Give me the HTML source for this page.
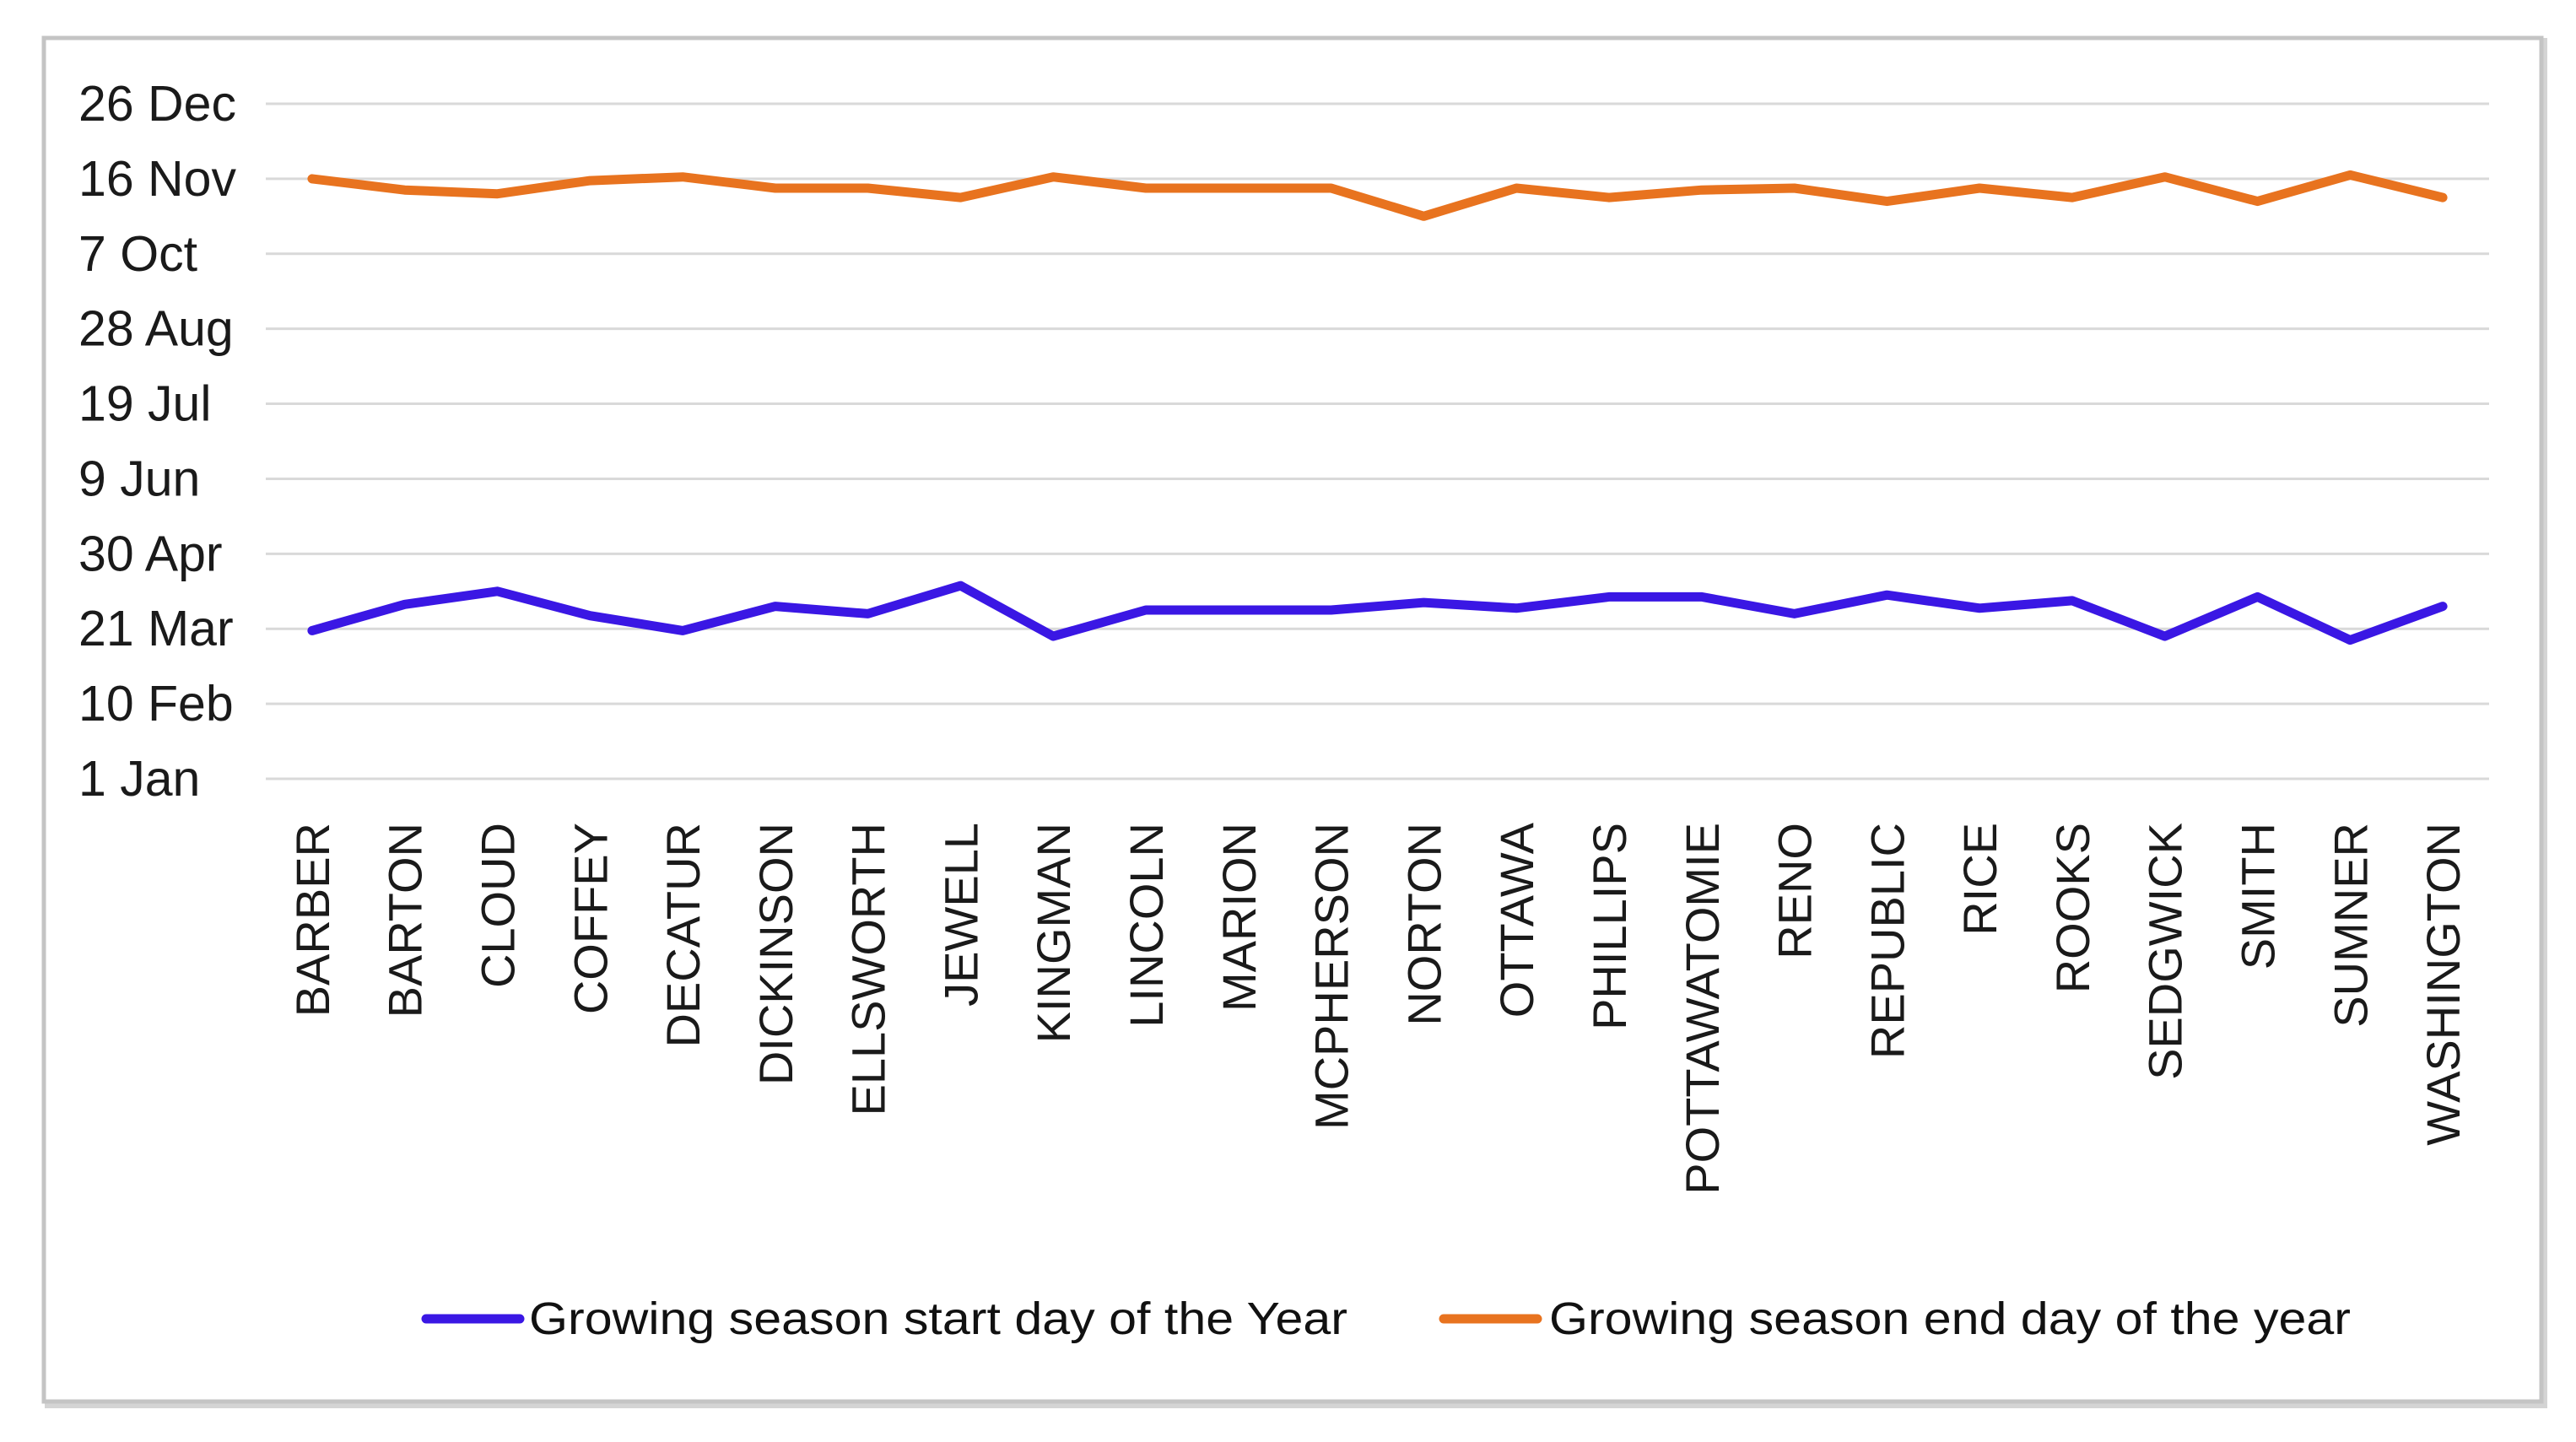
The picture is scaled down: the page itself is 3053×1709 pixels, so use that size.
<!DOCTYPE html>
<html><head><meta charset="utf-8"><style>
html,body{margin:0;padding:0;background:#fff;}
svg{display:block;font-family:"Liberation Sans",sans-serif;}
</style></head><body>
<svg id="chart" width="3053" height="1709" viewBox="0 0 3053 1709">
<rect x="56" y="48" width="2960" height="1618" fill="none" stroke="#d4d4d4" stroke-width="6"/>
<rect x="52" y="45" width="2960" height="1616" fill="#fff" stroke="#c4c4c4" stroke-width="5"/>
<g id="grid"></g><g id="yticks"></g><g id="xticks"></g><g id="series"></g>
<g>
<g>
<line x1="505" y1="1563" x2="616" y2="1563" stroke="#3a17e4" stroke-width="11" stroke-linecap="round"/>
<text x="627" y="1581" font-size="54" fill="#111" textLength="970" lengthAdjust="spacingAndGlyphs">Growing season start day of the Year</text>
</g>
<g>
<line x1="1711" y1="1563" x2="1822" y2="1563" stroke="#e8731f" stroke-width="11" stroke-linecap="round"/>
<text x="1836" y="1581" font-size="54" fill="#111" textLength="950" lengthAdjust="spacingAndGlyphs">Growing season end day of the year</text>
</g>
</g>
</svg>
<script>
const categories=["BARBER","BARTON","CLOUD","COFFEY","DECATUR","DICKINSON","ELLSWORTH","JEWELL","KINGMAN","LINCOLN","MARION","MCPHERSON","NORTON","OTTAWA","PHILLIPS","POTTAWATOMIE","RENO","REPUBLIC","RICE","ROOKS","SEDGWICK","SMITH","SUMNER","WASHINGTON"];
const startDays=[79,93,100,87,79,92,88,103,76,90,90,90,94,91,97,97,88,98,91,95,76,97,74,92];
const endDays=[320,314,312,319,321,315,315,310,321,315,315,315,300,315,310,314,315,308,315,310,321,308,322,310];
const tickValues=[0,40,80,120,160,200,240,280,320,360];
const tickLabels=["1 Jan","10 Feb","21 Mar","30 Apr","9 Jun","19 Jul","28 Aug","7 Oct","16 Nov","26 Dec"];
const NS="http://www.w3.org/2000/svg";
const X0=315,X1=2950,Y0=923,Y1=123,YMAX=360;
const band=(X1-X0)/categories.length;
function xPos(i){return X0+band*(i+0.5);}
function yPos(v){return Y0-(v/YMAX)*(Y0-Y1);}
function mk(tag,attrs,parent){const e=document.createElementNS(NS,tag);for(const k in attrs)e.setAttribute(k,attrs[k]);parent.appendChild(e);return e;}
const grid=document.getElementById('grid'),yt=document.getElementById('yticks'),xt=document.getElementById('xticks'),se=document.getElementById('series');
tickValues.forEach((v,i)=>{
  const l=mk('line',{x1:X0,x2:X1,y1:yPos(v),y2:yPos(v),stroke:'#d9d9d9','stroke-width':3},grid);
  
  
  const t=mk('text',{x:93,y:yPos(v)+20,'font-size':59,fill:'#1a1a1a'},yt);
  t.textContent=tickLabels[i];
  
  
});
categories.forEach((c,i)=>{
  const x=xPos(i)+20;
  const t=mk('text',{x:x,y:975,'font-size':56,fill:'#1a1a1a','text-anchor':'end',transform:`rotate(-90 ${x} 975)`},xt);
  t.textContent=c;
  
  
});
function line(vals,color,name){
  const pts=vals.map((v,i)=>xPos(i).toFixed(1)+','+yPos(v).toFixed(1)).join(' ');
  const p=mk('polyline',{points:pts,fill:'none',stroke:color,'stroke-width':11,'stroke-linejoin':'round','stroke-linecap':'round'},se);
  
  
}
line(endDays,'#e8731f','end-day-line');
line(startDays,'#3a17e4','start-day-line');
</script>
</body></html>
